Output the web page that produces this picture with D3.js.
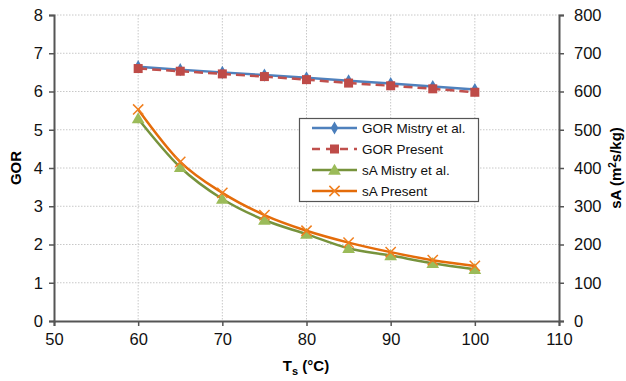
<!DOCTYPE html>
<html>
<head>
<meta charset="utf-8">
<script src="https://cdn.jsdelivr.net/npm/d3@7"></script>
<style>
body { margin: 0; background: #fff; }
text { font-family: "Liberation Sans", Arial, sans-serif; }
</style>
</head>
<body>
<svg id="chart" width="626" height="381"></svg>
<script>
// data
var temps = [60, 65, 70, 75, 80, 85, 90, 95, 100];
var gorMistry = [6.65, 6.57, 6.50, 6.43, 6.36, 6.28, 6.21, 6.13, 6.05];
var gorPresent = [6.60, 6.53, 6.46, 6.39, 6.31, 6.22, 6.15, 6.07, 5.98];
var saMistry = [529, 402, 319, 264, 227, 190, 171, 151, 135];
var saPresent = [553, 416, 335, 277, 236, 205, 180, 159, 144];
var xTicks = [50, 60, 70, 80, 90, 100, 110];
var gorTicks = [0, 1, 2, 3, 4, 5, 6, 7, 8];
var saTicks = [0, 100, 200, 300, 400, 500, 600, 700, 800];
var seriesNames = ["GOR Mistry et al.", "GOR Present", "sA Mistry et al.", "sA Present"];

var svg = d3.select("#chart");
var plotL = 54, plotR = 559, plotT = 15, plotB = 321;

var x = d3.scaleLinear().domain([50, 110]).range([plotL, plotR]);
var yL = d3.scaleLinear().domain([0, 8]).range([plotB, plotT]);
var yR = d3.scaleLinear().domain([0, 800]).range([plotB, plotT]);

// grid
var grid = svg.append("g");
grid.selectAll(".hg").data(gorTicks.slice(1)).enter().append("line")
	.attr("x1", plotL).attr("x2", plotR)
	.attr("y1", function(d){ return yL(d); }).attr("y2", function(d){ return yL(d); })
	.style("stroke", "#c8c8c8").style("stroke-width", 1).style("stroke-dasharray", "1.5,1.5");
grid.selectAll(".vg").data(xTicks.slice(1, -1)).enter().append("line")
	.attr("x1", function(d){ return x(d); }).attr("x2", function(d){ return x(d); })
	.attr("y1", plotT).attr("y2", plotB)
	.style("stroke", "#c8c8c8").style("stroke-width", 1).style("stroke-dasharray", "1.5,1.5");

// axes
var axisColor = "#555";
var gx = svg.append("g").attr("transform", "translate(0," + plotB + ")")
	.call(d3.axisBottom(x).tickValues(xTicks).tickSize(5).tickPadding(5));
var gl = svg.append("g").attr("transform", "translate(" + plotL + ",0)")
	.call(d3.axisLeft(yL).tickValues(gorTicks).tickSize(5).tickPadding(6));
var gr = svg.append("g").attr("transform", "translate(" + plotR + ",0)")
	.call(d3.axisRight(yR).tickValues(saTicks).tickSize(5).tickPadding(10));
[gx, gl, gr].forEach(function(g){
	g.select(".domain").style("stroke", axisColor).style("stroke-width", 2);
	g.selectAll(".tick line").style("stroke", axisColor).style("stroke-width", 1.5);
	g.selectAll(".tick text").style("font-size", "16.5px").style("fill", "#111")
		.style("font-family", "'Liberation Sans', Arial, sans-serif");
});
gx.selectAll(".tick text").attr("dy", "0.85em");

// axis titles
svg.append("text").attr("transform", "translate(21,168) rotate(-90)")
	.attr("text-anchor", "middle").style("font-weight", "bold").style("font-size", "15px").text("GOR");
var rt = svg.append("text").attr("transform", "translate(621,168) rotate(-90)")
	.attr("text-anchor", "middle").style("font-weight", "bold").style("font-size", "15px");
rt.append("tspan").text("sA (m");
rt.append("tspan").attr("dy", -5).style("font-size", "10px").text("2");
rt.append("tspan").attr("dy", 5).text("s/kg)");
var xt = svg.append("text").attr("x", 306).attr("y", 371)
	.attr("text-anchor", "middle").style("font-weight", "bold").style("font-size", "15px");
xt.append("tspan").text("T");
xt.append("tspan").attr("dy", 4).style("font-size", "11px").text("s");
xt.append("tspan").attr("dy", -4).text(" (°C)");

// series
var series = [
	{ vals: gorMistry, y: yL, line: "#4f81bd", mark: "#4a7ebb", shape: "diamond", dash: null, curve: d3.curveLinear },
	{ vals: gorPresent, y: yL, line: "#c0504d", mark: "#be4b48", shape: "square", dash: "9,5", curve: d3.curveLinear },
	{ vals: saMistry, y: yR, line: "#77933c", mark: "#9bbb59", shape: "triangle", dash: null, curve: d3.curveCatmullRom.alpha(0) },
	{ vals: saPresent, y: yR, line: "#e46c0a", mark: "#f07f1e", shape: "x", dash: null, curve: d3.curveCatmullRom.alpha(0) }
];

function drawMarker(g, shape, color, cx, cy) {
	if (shape == "diamond") {
		g.append("path").attr("d", d3.symbol().type(d3.symbolDiamond).size(50)())
			.attr("transform", "translate(" + cx + "," + cy + ")").style("fill", color);
	} else if (shape == "square") {
		g.append("rect").attr("x", cx - 4.5).attr("y", cy - 4.5).attr("width", 9).attr("height", 9).style("fill", color);
	} else if (shape == "triangle") {
		g.append("path").attr("d", d3.symbol().type(d3.symbolTriangle).size(70)())
			.attr("transform", "translate(" + cx + "," + (cy + 1) + ")").style("fill", color);
	} else {
		g.append("path").attr("d", d3.symbol().type(d3.symbolX).size(70)())
			.attr("transform", "translate(" + cx + "," + cy + ")")
			.style("fill", "none").style("stroke", color).style("stroke-width", 1.5);
	}
}

series.forEach(function(s) {
	var g = svg.append("g");
	var line = d3.line()
		.x(function(d, i){ return x(temps[i]); })
		.y(function(d){ return s.y(d); })
		.curve(s.curve);
	g.append("path").datum(s.vals).attr("d", line)
		.style("fill", "none").style("stroke", s.line).style("stroke-width", 2.5)
		.style("stroke-dasharray", s.dash);
	s.vals.forEach(function(v, i){ drawMarker(g, s.shape, s.mark, x(temps[i]), s.y(v)); });
});

// legend
var lg = svg.append("g");
lg.append("rect").attr("x", 299.5).attr("y", 118.5).attr("width", 179).attr("height", 83)
	.style("fill", "#fff").style("stroke", "#555").style("stroke-width", 1.2);
series.forEach(function(s, i) {
	var ly = 128 + i * 21;
	lg.append("line").attr("x1", 312).attr("x2", 357).attr("y1", ly).attr("y2", ly)
		.style("stroke", s.line).style("stroke-width", 2.5).style("stroke-dasharray", s.dash ? "8,6" : null);
	drawMarker(lg, s.shape, s.mark, 334.5, ly);
	lg.append("text").attr("x", 362).attr("y", ly + 5).style("font-size", "13.5px").style("fill", "#111")
		.text(seriesNames[i]);
});
</script>
</body>
</html>
